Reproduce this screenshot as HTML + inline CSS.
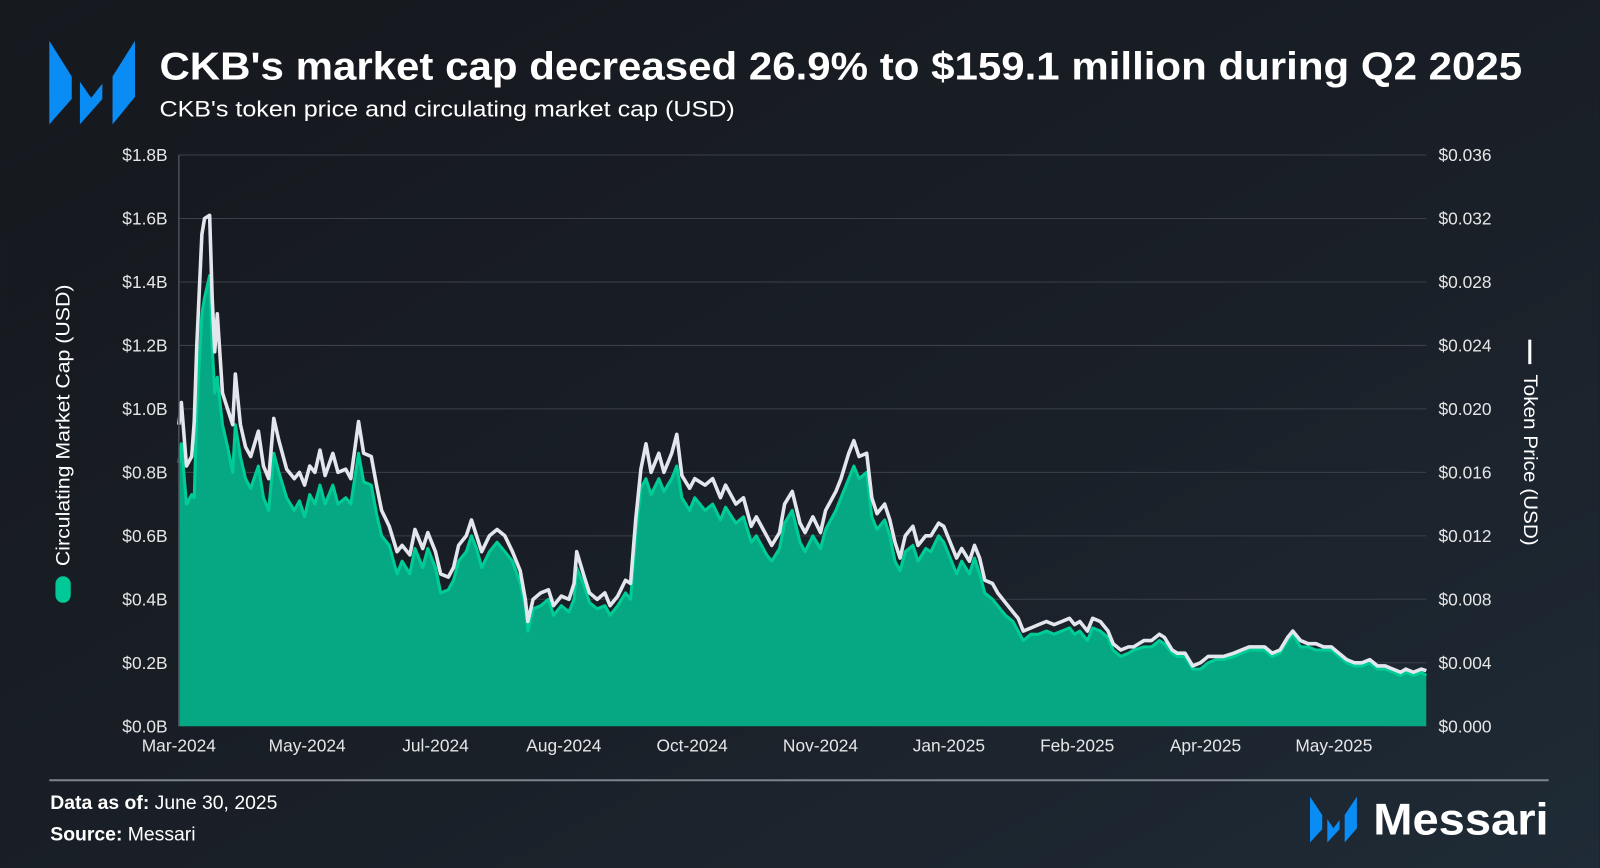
<!DOCTYPE html>
<html><head><meta charset="utf-8">
<style>
html,body{margin:0;padding:0;width:1600px;height:868px;overflow:hidden;background:#181c22;}
svg{display:block;font-family:"Liberation Sans",sans-serif;}
</style></head>
<body>
<svg id="chart" width="1600" height="868" viewBox="0 0 1568 851" xmlns="http://www.w3.org/2000/svg">
<defs>
<linearGradient id="bg" x1="0" y1="0" x2="1" y2="1">
<stop offset="0" stop-color="#15181d"/><stop offset="0.6" stop-color="#1a2028"/><stop offset="1" stop-color="#1f2b36"/>
</linearGradient>
</defs>
<rect x="0" y="0" width="1568" height="851" fill="url(#bg)"/>
<g fill="#0a8cf5">
<polygon points="48,40 70,75 70,97 48,122"/>
<polygon points="78,80 89,96 100,82 100,97 78,122"/>
<polygon points="110,75 132,40 132,95 110,122"/>
</g>
<text x="156" y="78" font-size="38" font-weight="600" fill="#ffffff" textLength="1336" lengthAdjust="spacingAndGlyphs">CKB's market cap decreased 26.9% to $159.1 million during Q2 2025</text>
<text x="156" y="114" font-size="22" fill="#ffffff" textLength="564" lengthAdjust="spacingAndGlyphs">CKB's token price and circulating market cap (USD)</text>
<g id="grid"></g>
<g id="series"></g>
<g id="axes"></g>
<g>
<text transform="translate(68,417) rotate(-90)" text-anchor="middle" font-size="19" fill="#ffffff" textLength="276" lengthAdjust="spacingAndGlyphs">Circulating Market Cap (USD)</text>
<rect x="54" y="565" width="15" height="26" rx="7.5" fill="#00c896"/>
</g>
<g>
<rect x="1498" y="333" width="3" height="24" fill="#ffffff"/>
<text transform="translate(1494,451) rotate(90)" text-anchor="middle" font-size="19" fill="#ffffff" textLength="168" lengthAdjust="spacingAndGlyphs">Token Price (USD)</text>
</g>
<line x1="48" y1="765" x2="1518" y2="765" stroke="#7d838b" stroke-width="2"/>
<text x="49" y="793" font-size="19" fill="#ffffff"><tspan font-weight="bold">Data as of:</tspan> June 30, 2025</text>
<text x="49" y="824" font-size="19" fill="#ffffff"><tspan font-weight="bold">Source:</tspan> Messari</text>
<g fill="#0a8cf5">
<polygon points="1284,781 1296,799 1296,813 1284,826"/>
<polygon points="1301,803 1307,812 1313,804 1313,813 1301,826"/>
<polygon points="1318,799 1330,781 1330,812 1318,826"/>
</g>
<text x="1346" y="818" font-size="44" font-weight="600" fill="#ffffff" textLength="172" lengthAdjust="spacingAndGlyphs">Messari</text>
</svg>
<script>
const days = [0,1,3,5,6,7,9,10,12,13,14,15,17,19,21,22,24,26,28,31,33,35,37,39,42,45,47,49,51,53,55,57,60,62,65,67,70,72,75,77,79,82,85,87,90,92,95,97,100,102,105,107,109,112,114,116,118,121,124,127,130,133,135,136,138,141,144,146,149,152,154,155,158,160,163,166,168,171,174,176,178,180,182,184,187,189,192,194,196,199,201,205,208,211,213,217,220,223,225,229,231,234,236,239,242,244,247,250,252,256,258,261,263,265,268,270,272,275,277,279,281,283,286,288,291,293,296,298,301,303,305,308,310,312,314,317,319,322,325,327,329,332,335,338,341,344,347,349,351,354,356,359,362,364,367,370,372,376,379,382,384,387,389,392,395,398,401,404,407,411,414,417,420,423,426,429,432,434,437,440,443,446,449,452,455,458,461,464,467,470,473,476,478,481,484,486];
const marketCapB = [.83,.89,.70,.73,.72,1.0,1.30,1.35,1.42,1.20,1.05,1.10,.95,.88,.80,.95,.85,.78,.75,.82,.72,.68,.86,.80,.72,.68,.71,.66,.73,.70,.76,.70,.76,.70,.72,.70,.86,.77,.76,.67,.60,.57,.48,.52,.48,.56,.50,.56,.50,.42,.43,.46,.52,.55,.60,.56,.50,.55,.58,.55,.52,.45,.38,.30,.37,.38,.40,.35,.38,.36,.40,.50,.44,.39,.37,.38,.35,.38,.42,.40,.60,.75,.78,.73,.78,.74,.78,.82,.72,.68,.72,.68,.70,.65,.69,.64,.66,.58,.60,.54,.52,.56,.64,.68,.58,.55,.60,.56,.62,.68,.72,.78,.82,.78,.80,.66,.62,.65,.60,.52,.49,.55,.57,.52,.56,.55,.60,.58,.52,.48,.52,.48,.53,.48,.42,.40,.38,.35,.33,.30,.27,.29,.29,.30,.29,.30,.31,.29,.30,.27,.31,.30,.28,.24,.22,.23,.24,.25,.25,.27,.26,.23,.22,.22,.18,.18,.20,.21,.21,.22,.23,.24,.24,.24,.22,.23,.27,.29,.25,.25,.24,.24,.24,.22,.20,.19,.19,.20,.18,.18,.17,.16,.17,.16,.17,.16];
const tokenPrice = [.0190,.0204,.0164,.0170,.0192,.0240,.0310,.0320,.0322,.0270,.0236,.0260,.0210,.0200,.0190,.0222,.0190,.0176,.0170,.0186,.0164,.0156,.0194,.0180,.0162,.0156,.0160,.0152,.0164,.0160,.0174,.0158,.0172,.0160,.0162,.0156,.0192,.0172,.0170,.0152,.0136,.0126,.0110,.0114,.0108,.0124,.0112,.0122,.0110,.0096,.0094,.0100,.0114,.0120,.0130,.0120,.0110,.0120,.0124,.0120,.0110,.0098,.0080,.0066,.0080,.0084,.0086,.0076,.0082,.0080,.0090,.0110,.0094,.0084,.0080,.0084,.0076,.0082,.0092,.0090,.0130,.0162,.0178,.0160,.0172,.0160,.0172,.0184,.0158,.0150,.0156,.0152,.0156,.0144,.0152,.0140,.0144,.0126,.0132,.0120,.0114,.0122,.0140,.0148,.0128,.0122,.0132,.0122,.0136,.0148,.0156,.0172,.0180,.0170,.0172,.0144,.0134,.0140,.0130,.0116,.0106,.0120,.0126,.0114,.0120,.0120,.0128,.0126,.0114,.0106,.0112,.0104,.0114,.0106,.0092,.0090,.0084,.0078,.0072,.0068,.0060,.0062,.0064,.0066,.0064,.0066,.0068,.0064,.0066,.0060,.0068,.0066,.0060,.0052,.0048,.0050,.0050,.0054,.0054,.0058,.0056,.0048,.0046,.0046,.0038,.0040,.0044,.0044,.0044,.0046,.0048,.0050,.0050,.0050,.0046,.0048,.0056,.0060,.0054,.0052,.0052,.0050,.0050,.0046,.0042,.0040,.0040,.0042,.0038,.0038,.0036,.0034,.0036,.0034,.0036,.0035];
const leftTicks = [0,0.2,0.4,0.6,0.8,1.0,1.2,1.4,1.6,1.8];
const leftTickLabels = ["$0.0B","$0.2B","$0.4B","$0.6B","$0.8B","$1.0B","$1.2B","$1.4B","$1.6B","$1.8B"];
const rightTickLabels = ["$0.000","$0.004","$0.008","$0.012","$0.016","$0.020","$0.024","$0.028","$0.032","$0.036"];
const xTickDays = [0,50,100,150,200,250,300,350,400,450];
const xTickLabels = ["Mar-2024","May-2024","Jul-2024","Aug-2024","Oct-2024","Nov-2024","Jan-2025","Feb-2025","Apr-2025","May-2025"];

const NS="http://www.w3.org/2000/svg";
const X0=175,X1=1398,Y0=712,Y1=152,DMAX=486,LMAX=1.8,RMAX=0.036;
const xs=d=>X0+(d/DMAX)*(X1-X0);
const yL=v=>Y0-(v/LMAX)*(Y0-Y1);
const yR=v=>Y0-(v/RMAX)*(Y0-Y1);
function mk(tag,attrs,parent){const e=document.createElementNS(NS,tag);for(const k in attrs)e.setAttribute(k,attrs[k]);parent.appendChild(e);return e;}
const grid=document.getElementById('grid'),axes=document.getElementById('axes'),series=document.getElementById('series');
leftTicks.forEach((v,i)=>{
  if(i>0){const g=mk('line',{x1:X0,x2:X1,y1:yL(v),y2:yL(v),stroke:'#3b4048','stroke-width':1},grid);
  
  }
  const t=mk('text',{x:164,y:yL(v)+6,'text-anchor':'end','font-size':17,fill:'#e6e6e6'},axes);
  t.textContent=leftTickLabels[i];
  
  
  const r=mk('text',{x:1410,y:yL(v)+6,'font-size':17,fill:'#e6e6e6'},axes);
  r.textContent=rightTickLabels[i];
  
  
});
const ax=mk('line',{x1:X0,x2:X0,y1:Y1,y2:Y0,stroke:'#4a4f57','stroke-width':1.5},axes);


xTickDays.forEach((d,i)=>{
  const t=mk('text',{x:xs(d),y:737,'text-anchor':'middle','font-size':17,fill:'#e6e6e6'},axes);
  t.textContent=xTickLabels[i];
  
  
});
let pts=days.map((d,i)=>xs(d).toFixed(1)+','+yL(marketCapB[i]).toFixed(1));
const area=mk('path',{d:'M'+xs(days[0])+','+Y0+' L'+pts.join(' L')+' L'+xs(days[days.length-1])+','+Y0+' Z',fill:'#05a883'},series);


const mline=mk('path',{d:'M'+pts.join(' L'),fill:'none',stroke:'#00cc98','stroke-width':3,'stroke-linejoin':'round'},series);


let pp=days.map((d,i)=>xs(d).toFixed(1)+','+yR(tokenPrice[i]).toFixed(1));
const pline=mk('path',{d:'M'+pp.join(' L'),fill:'none',stroke:'#e3e7ed','stroke-width':3.5,'stroke-linejoin':'round'},series);


</script>
</body></html>
